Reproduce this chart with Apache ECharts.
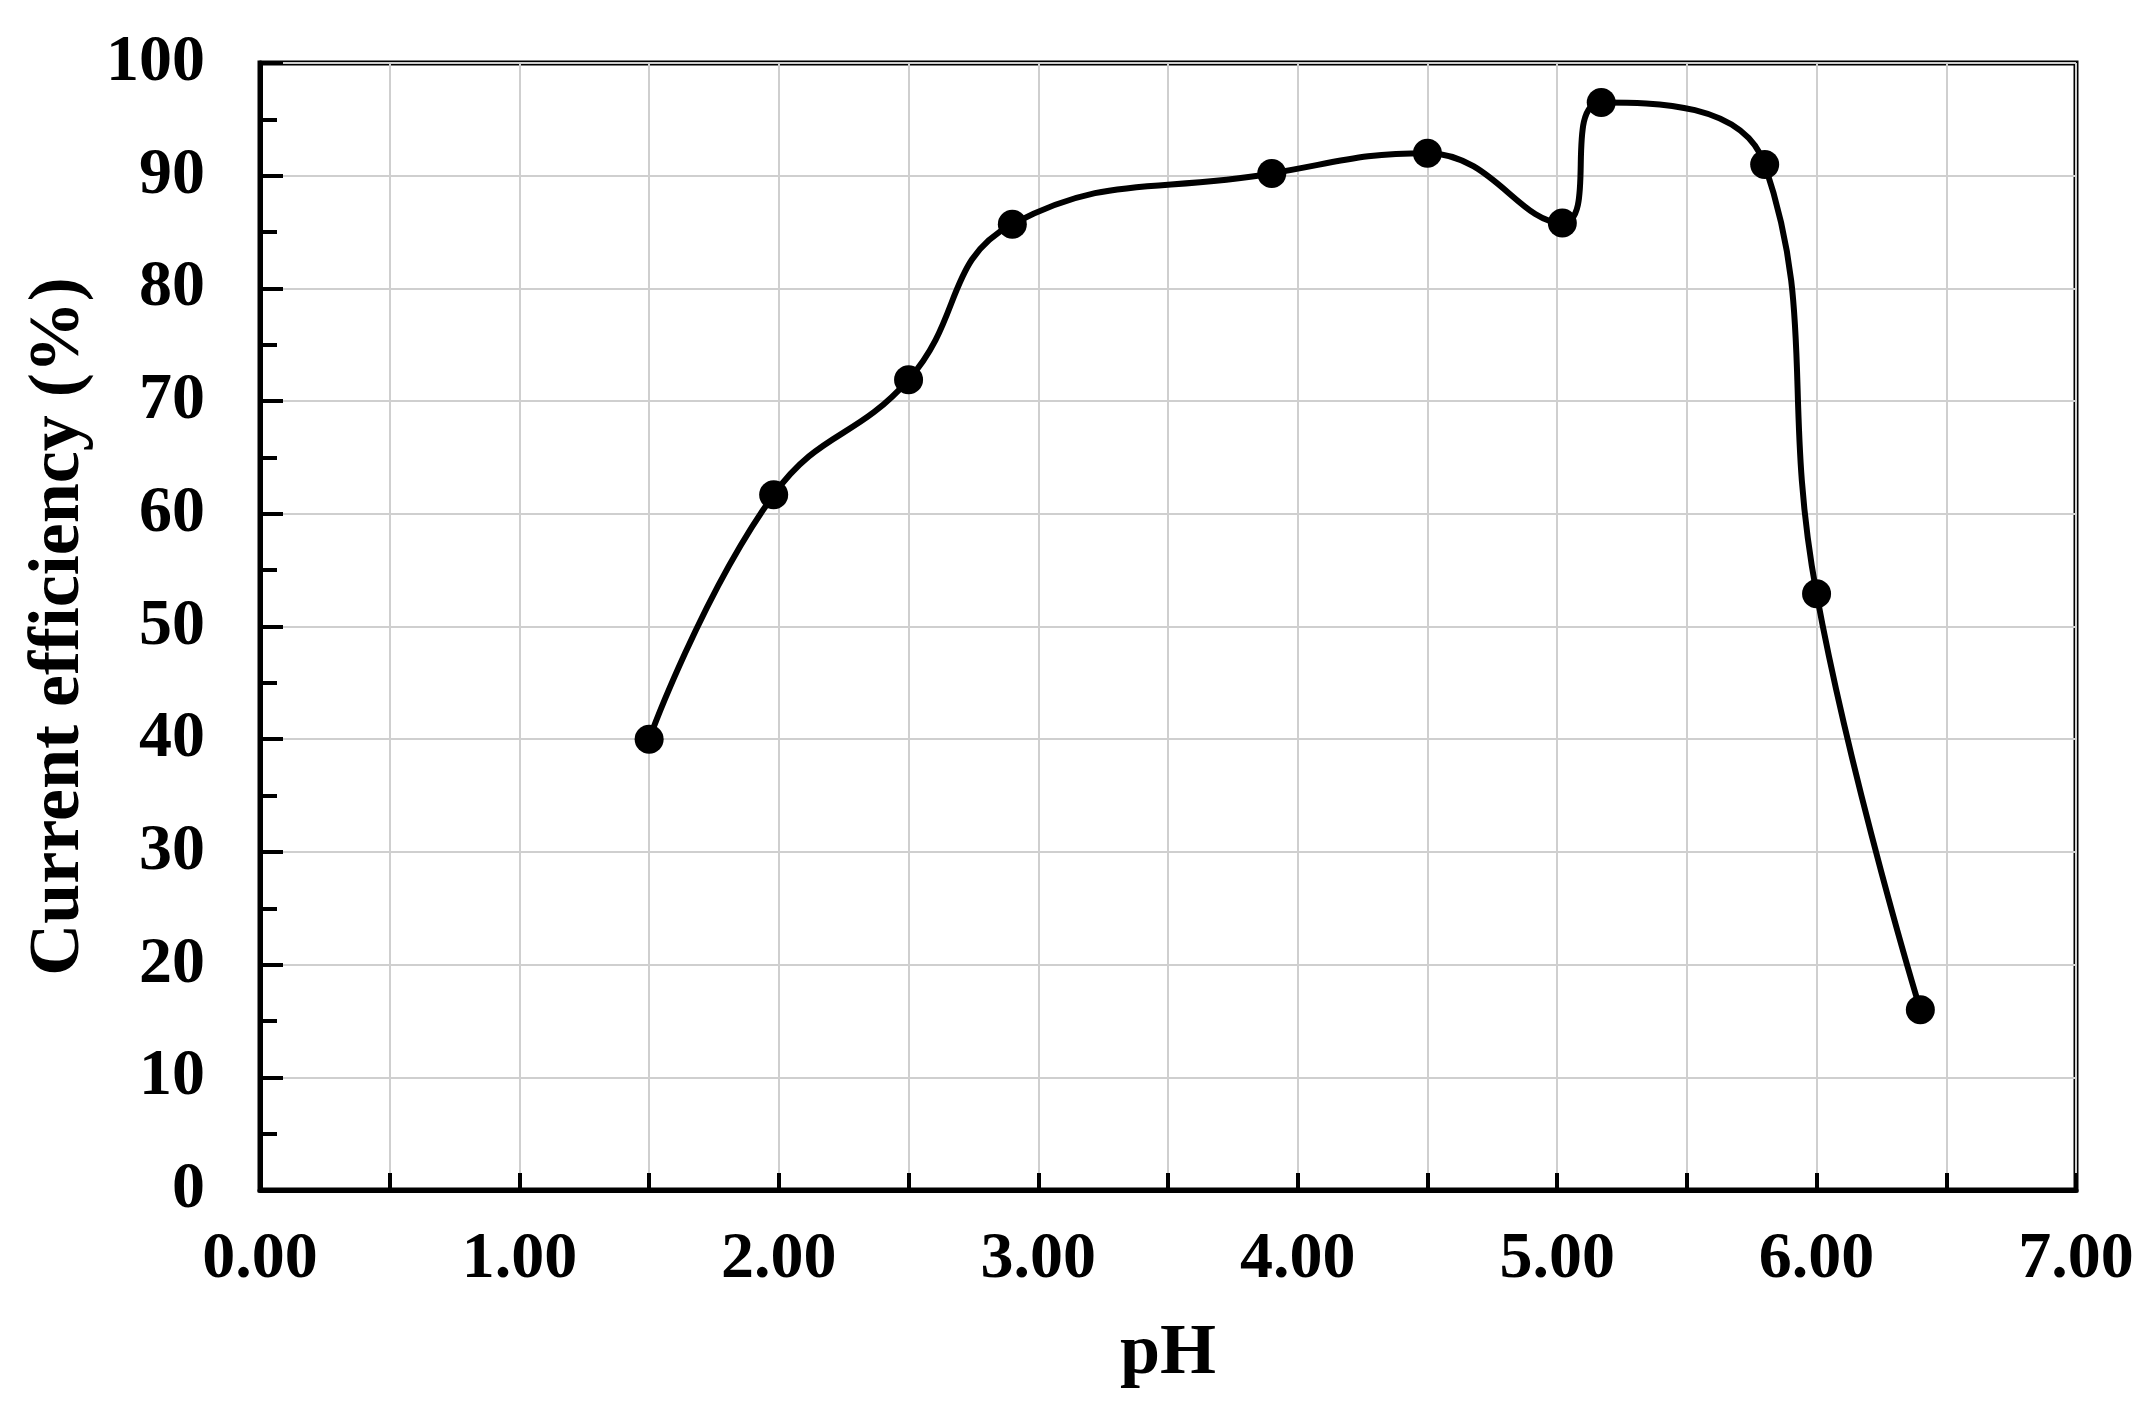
<!DOCTYPE html>
<html><head><meta charset="utf-8">
<script src="https://cdn.jsdelivr.net/npm/echarts@6/dist/echarts.min.js"></script>
<style>html,body{margin:0;padding:0;background:#fff}#c{width:2137px;height:1417px}</style>
</head><body><div id="c"></div>
<script>
const phValues = [1.50, 1.98, 2.50, 2.90, 3.90, 4.50, 5.02, 5.17, 5.80, 6.00, 6.40];
const efficiencyValues = [40.0, 61.7, 71.9, 85.7, 90.2, 92.0, 85.8, 96.5, 91.0, 52.9, 16.0];
const xTickLabels = ['0.00', '1.00', '2.00', '3.00', '4.00', '5.00', '6.00', '7.00'];
const yTickLabels = ['0', '10', '20', '30', '40', '50', '60', '70', '80', '90', '100'];
const xTitle = 'pH';
const yTitle = 'Current efficiency (%)';

const FONT = '"Liberation Serif", "Times New Roman", serif';
const chart = echarts.init(document.getElementById('c'));
chart.setOption({
  animation: false,
  backgroundColor: '#fff',
  grid: { left: 260, top: 63, right: 61, bottom: 227, show: true, borderColor: '#000', borderWidth: 5 },
  xAxis: {
    type: 'value', min: 0, max: 7, interval: 0.5,
    name: xTitle, nameLocation: 'middle', nameGap: 128,
    nameTextStyle: { fontFamily: FONT, fontWeight: 'bold', fontSize: 72, color: '#000' },
    axisLine: { show: true, lineStyle: { color: '#000', width: 5 } },
    axisTick: { show: true, inside: true, length: 17, lineStyle: { color: '#000', width: 4 } },
    splitLine: { show: true, lineStyle: { color: '#cfcfcf', width: 2 } },
    axisLabel: {
      margin: 37, fontFamily: FONT, fontWeight: 'bold', fontSize: 66, color: '#000',
      formatter: function (v) { const i = Math.round(v); return Math.abs(v - i) < 1e-6 ? xTickLabels[i] : ''; }
    }
  },
  yAxis: {
    type: 'value', min: 0, max: 100, interval: 10,
    name: yTitle, nameLocation: 'middle', nameGap: 165, nameRotate: 90,
    nameTextStyle: { fontFamily: FONT, fontWeight: 'bold', fontSize: 72, color: '#000' },
    axisLine: { show: true, lineStyle: { color: '#000', width: 5 } },
    axisTick: { show: true, inside: true, length: 23, lineStyle: { color: '#000', width: 4 } },
    minorTick: { show: true, splitNumber: 2, length: 17, lineStyle: { color: '#000', width: 4 } },
    splitLine: { show: true, lineStyle: { color: '#cfcfcf', width: 2 } },
    axisLabel: {
      margin: 55, fontFamily: FONT, fontWeight: 'bold', fontSize: 66, color: '#000',
      formatter: function (v) { return yTickLabels[Math.round(v / 10)]; }
    }
  },
  series: [{
    type: 'line',
    data: phValues.map((x, i) => [x, efficiencyValues[i]]),
    smooth: 0.45,
    symbol: 'circle', symbolSize: 29,
    itemStyle: { color: '#000' },
    lineStyle: { color: '#000', width: 6 }
  }]
});
</script></body></html>
